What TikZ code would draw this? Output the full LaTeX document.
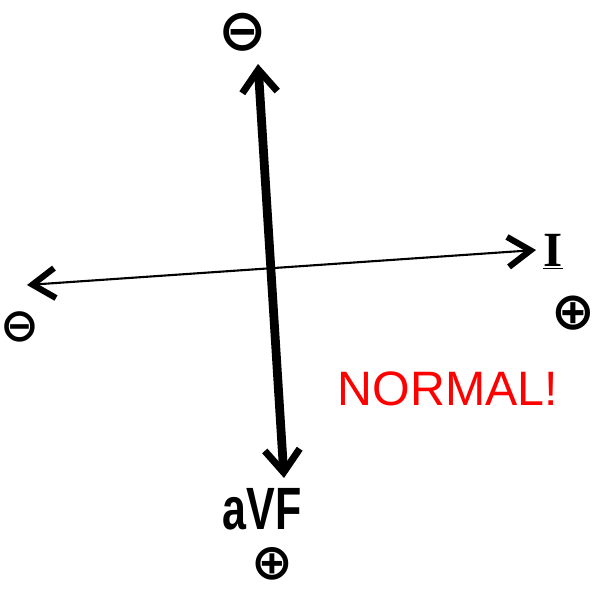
\documentclass[tikz,border=0pt]{standalone}
\usepackage{fontspec}
\setmainfont{Liberation Sans}
\newfontfamily\signfont{DejaVu Sans}
\newfontfamily\leadfont{Liberation Serif}
\usepackage{tikz}
\usetikzlibrary{calc, positioning, arrows.meta}

\newcommand{\polsign}[1]{\raisebox{-0.25em}{#1}}

\begin{document}
\begin{tikzpicture}[
    x=0.02cm, y=-0.02cm,
    node distance=0.6cm,
    sign/.style={inner sep=0pt, text height=0.62em, text depth=0.02em, font=\signfont\bfseries\fontsize{33}{33}\selectfont},
    leadname/.style={inner sep=0pt, font=\bfseries\fontsize{34}{34}\selectfont},
    verdict/.style={inner sep=0pt, text=red, font=\fontsize{27.5}{27.5}\selectfont},
    axis_avf/.style={{Straight Barb[length=4.5mm, width=7mm, line width=4pt]}-{Straight Barb[length=4.5mm, width=7mm, line width=4pt]}, line width=5pt},
    axis_i/.style={{Straight Barb[length=4.5mm, width=6mm, line width=3.5pt]}-{Straight Barb[length=4.5mm, width=6mm, line width=3.5pt]}, line width=1.2pt}
]
\useasboundingbox (0,0) rectangle (598,591);

% ends of the two axes
\coordinate (avftop) at (258,64);
\coordinate (avfbot) at (284,478);
\coordinate (ileft) at (27,285);
\coordinate (iright) at (536,250);

\draw[axis_avf] (avfbot) -- (avftop);
\draw[axis_i] (ileft) -- (iright);

% polarity and lead labels
\node[sign] (topneg) at (243,31) {\polsign{⊖}};
\node[leadname, font=\leadfont\bfseries\fontsize{28}{28}\selectfont] (leadI) at (553,252) {\underline{I}};
\node[sign, scale=0.9] (rightpos) at (573,312) {\polsign{⊕}};
\node[sign, scale=0.8] (leftneg) at (20,326) {\polsign{⊖}};
\node[leadname, xscale=0.72] (leadavf) at (262,509) {aVF};
\node[sign, scale=0.86] (botpos) at (272,562) {\polsign{⊕}};

\node[verdict] (normal) at (448,389) {NORMAL!};

\end{tikzpicture}
\end{document}
